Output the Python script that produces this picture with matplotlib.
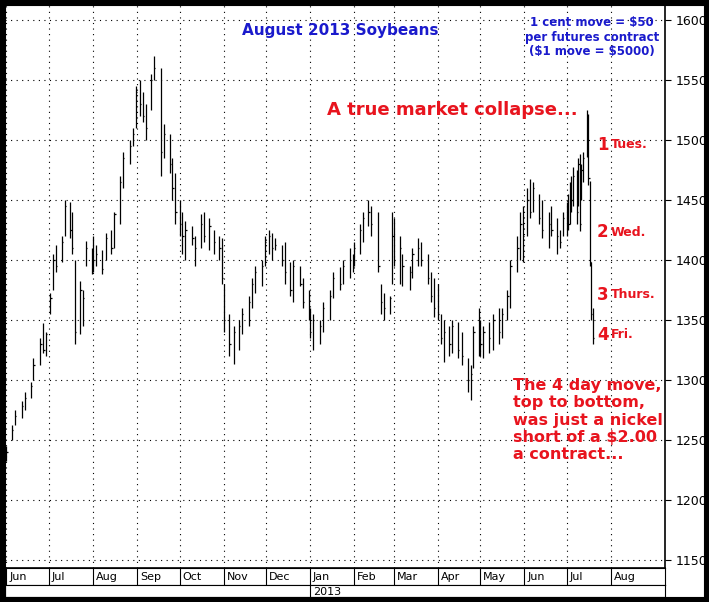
import matplotlib
matplotlib.use("Agg")
import matplotlib.pyplot as plt
import numpy as np
import pandas as pd

# (high, low, close) bars per month
bars = {
    "2012-06": [(1245,1232,1240),(1262,1250,1258),(1275,1262,1270),(1282,1268,1278),(1290,1275,1285),
                (1298,1285,1295),(1318,1300,1312),(1335,1312,1330),(1347,1322,1325),(1340,1320,1338)],
    "2012-07": [(1372,1355,1368),(1405,1375,1400),(1412,1390,1395),(1420,1398,1415),(1450,1420,1445),
                (1448,1418,1425),(1440,1405,1410),(1400,1330,1340),(1382,1338,1375),(1375,1345,1368),
                (1416,1395,1410),(1410,1388,1395)],
    "2012-08": [(1420,1390,1400),(1412,1395,1405),(1408,1388,1392),(1422,1400,1418),(1425,1405,1410),
                (1440,1410,1438),(1470,1430,1465),(1490,1460,1485),(1500,1480,1495),(1510,1495,1505),
                (1545,1510,1540)],
    "2012-09": [(1550,1520,1530),(1540,1515,1520),(1530,1500,1510),(1555,1525,1550),(1570,1550,1560),
                (1560,1470,1490),(1513,1485,1505),(1505,1472,1480),(1485,1450,1460),(1472,1430,1440)],
    "2012-10": [(1450,1420,1430),(1440,1405,1420),(1432,1400,1425),(1428,1412,1418),(1420,1395,1410),
                (1438,1410,1430),(1440,1415,1420),(1435,1408,1428),(1425,1405,1415),(1420,1400,1410),
                (1418,1380,1385)],
    "2012-11": [(1380,1340,1350),(1355,1320,1330),(1345,1313,1340),(1350,1325,1345),(1360,1338,1355),
                (1370,1345,1365),(1385,1360,1380),(1395,1372,1390),(1400,1378,1395),(1420,1395,1415)],
    "2012-12": [(1425,1405,1420),(1422,1400,1410),(1418,1408,1412),(1412,1395,1400),(1415,1380,1390),
                (1398,1370,1375),(1400,1365,1395),(1395,1378,1380),(1385,1360,1365),(1375,1350,1355)],
    "2013-01": [(1360,1335,1340),(1355,1325,1350),(1350,1330,1345),(1365,1340,1360),(1375,1350,1370),
                (1390,1368,1385),(1394,1375,1380),(1400,1380,1395),(1410,1385,1400),(1405,1390,1398)],
    "2013-02": [(1415,1395,1410),(1430,1405,1425),(1440,1415,1435),(1450,1428,1440),(1445,1420,1430),
                (1440,1390,1395),(1380,1355,1365),(1372,1350,1360),(1370,1355,1368),(1440,1380,1420)],
    "2013-03": [(1435,1395,1400),(1420,1380,1410),(1405,1378,1395),(1395,1375,1390),(1410,1385,1405),
                (1418,1395,1410),(1415,1395,1400),(1405,1380,1385),(1390,1365,1370),(1385,1352,1360)],
    "2013-04": [(1380,1350,1355),(1355,1330,1335),(1350,1315,1340),(1345,1320,1330),(1350,1322,1345),
                (1348,1318,1325),(1340,1312,1320),(1318,1290,1300),(1312,1283,1305),(1345,1310,1340),
                (1360,1320,1330)],
    "2013-05": [(1350,1320,1330),(1345,1318,1340),(1348,1322,1335),(1355,1325,1350),(1360,1330,1340),
                (1360,1335,1355),(1375,1350,1370),(1400,1360,1395),(1420,1390,1410),(1440,1400,1430),
                (1445,1398,1420)],
    "2013-06": [(1460,1420,1450),(1467,1435,1440),(1465,1440,1460),(1455,1430,1435),(1450,1418,1425),
                (1440,1410,1430),(1445,1420,1425),(1435,1405,1420),(1425,1410,1415),(1440,1420,1435)],
    "2013-07": [(1448,1420,1440),(1455,1425,1430),(1465,1430,1460),(1470,1440,1450),(1477,1445,1470),
                (1475,1430,1440),(1485,1445,1480),(1488,1424,1430),(1480,1450,1475),(1490,1465,1485),
                (1525,1486,1505),(1522,1462,1468),(1466,1395,1398),(1398,1350,1355),(1360,1330,1335)],
}
month_names = ["Jun","Jul","Aug","Sep","Oct","Nov","Dec","Jan","Feb","Mar","Apr","May","Jun","Jul","Aug"]
month_starts = pd.date_range("2012-06-01", "2013-08-01", freq="MS")
price_ticks = [1150,1200,1250,1300,1350,1400,1450,1500,1550,1600]

dates, hi, lo, cl = [], [], [], []
for m, vals in bars.items():
    start = pd.Timestamp(m + "-01")
    end = min(start + pd.offsets.MonthEnd(0), pd.Timestamp("2013-07-19"))
    days = pd.bdate_range(start, end)
    idx = np.round(np.linspace(0, len(days) - 1, len(vals))).astype(int)
    for i, (h, l, c) in zip(idx, vals):
        dates.append(days[i]); hi.append(h); lo.append(l); cl.append(c)
x = matplotlib.dates.date2num(dates)

W, H = 709, 602
fig = plt.figure(figsize=(W/100, H/100), dpi=100)
fig.patch.set_facecolor("white")

def fx(px): return px / W
def fy(py): return 1 - py / H

xmin = matplotlib.dates.date2num(pd.Timestamp("2012-05-31"))
xmax = xmin + 465

ax = fig.add_axes([fx(5), fy(568), fx(660), 563/H])
ax.vlines(x, lo, hi, color="black", lw=0.9)
ax.hlines(cl, x, x + 0.9, color="black", lw=0.9)
ax.set_xlim(xmin, xmax)
ax.set_ylim(1143, 1612.5)
ax.yaxis.tick_right()
ax.set_yticks(price_ticks)
ax.tick_params(axis="y", labelsize=9, length=4, direction="out")
ax.set_xticks(matplotlib.dates.date2num(month_starts))
ax.tick_params(axis="x", labelbottom=False, length=0)
ax.grid(True, color="black", linestyle=(0, (1, 4)), lw=0.8)
for s in ax.spines.values():
    s.set_linewidth(1.2)

# month strip
ax2 = fig.add_axes([fx(5), fy(585), fx(660), 17/H])
ax2.set_xlim(xmin, xmax); ax2.set_ylim(0, 1)
ax2.set_xticks([]); ax2.set_yticks([])
for d, name in zip(matplotlib.dates.date2num(month_starts), month_names):
    ax2.axvline(d, color="black", lw=0.8)
    ax2.text(d + 2, 0.45, name, fontsize=8, va="center", ha="left")
ax3 = fig.add_axes([fx(5), fy(597), fx(660), 12/H])
ax3.set_xlim(xmin, xmax); ax3.set_xticks([]); ax3.set_yticks([])
jan = matplotlib.dates.date2num(pd.Timestamp("2013-01-01"))
ax3.axvline(jan, color="black", lw=0.8)
ax3.text(jan + 2, 0.45, "2013", fontsize=8, va="center", ha="left")

# outer black frame
fig.add_artist(plt.Rectangle((0, 0), 1, 1, transform=fig.transFigure, fill=False,
                             edgecolor="black", lw=8))

blue = "#1a1acc"
red = "#e8141e"
fig.text(fx(340), fy(30), "August 2013 Soybeans", color=blue, fontsize=11,
         fontweight="bold", ha="center", va="center")
fig.text(fx(592), fy(37), "1 cent move = \\$50\nper futures contract\n(\\$1 move = \\$5000)",
         color=blue, fontsize=8.5, fontweight="bold", ha="center", va="center", linespacing=1.15)
fig.text(fx(452), fy(110), "A true market collapse...", color=red, fontsize=13,
         fontweight="bold", ha="center", va="center")
for py, num, lab in [(145, "1", "Tues."), (232, "2", "Wed."), (295, "3", "Thurs."), (335, "4", "Fri.")]:
    fig.text(fx(597), fy(py), num, color=red, fontsize=12, fontweight="bold", va="center")
    fig.text(fx(611), fy(py), lab, color=red, fontsize=9, fontweight="bold", va="center")
fig.text(fx(513), fy(420), "The 4 day move,\ntop to bottom,\nwas just a nickel\nshort of a \\$2.00\na contract...",
         color=red, fontsize=11.5, fontweight="bold", ha="left", va="center", linespacing=1.2)

fig.savefig("out.png", dpi=100)
